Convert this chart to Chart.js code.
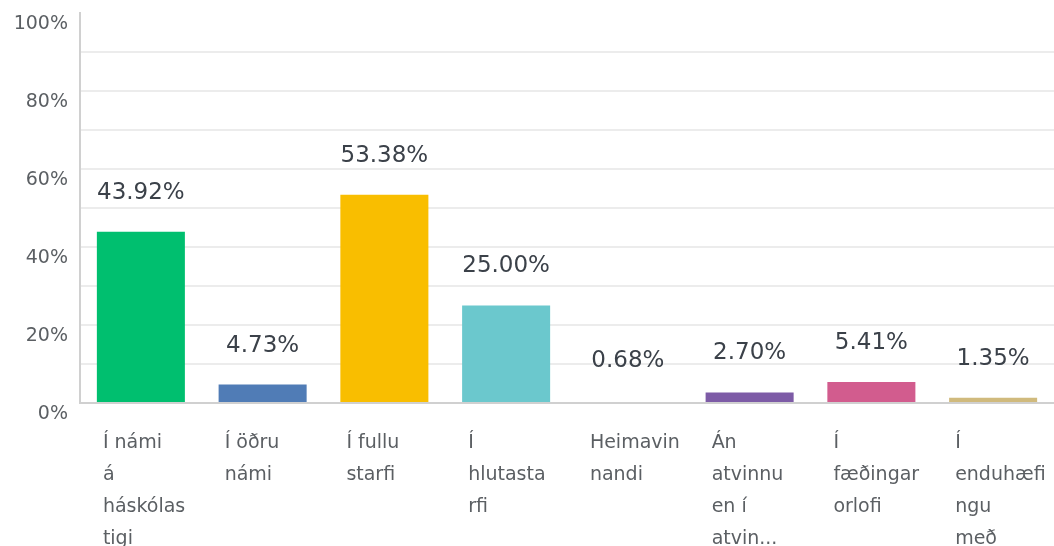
<!DOCTYPE html>
<html>
<head>
<meta charset="utf-8">
<script src="https://cdn.jsdelivr.net/npm/chart.js@4.4.0/dist/chart.umd.min.js"></script>
<style>
  html, body { margin: 0; padding: 0; background: #fff; overflow: hidden; }
  #wrap { width: 1054px; height: 546px; position: relative; }
</style>
</head>
<body>
<div id="wrap"><canvas id="chart"></canvas></div>
<script>
var categories = [
  ["Í námi", "á", "háskólas", "tigi"],
  ["Í öðru", "námi"],
  ["Í fullu", "starfi"],
  ["Í", "hlutasta", "rfi"],
  ["Heimavin", "nandi"],
  ["Án", "atvinnu", "en í", "atvin..."],
  ["Í", "fæðingar", "orlofi"],
  ["Í", "enduhæfi", "ngu", "með"]
];
var values = [43.92, 4.73, 53.38, 25.00, 0.68, 2.70, 5.41, 1.35];
var barColors = ["#00bf6f", "#507cb6", "#f9be00", "#6bc8cd", "rgba(0,0,0,0)", "#7d5ba6", "#d25c8e", "#d0ba7d"];
var yTicks = [0, 20, 40, 60, 80, 100];

// value labels above the bars
var valueLabels = {
  id: "valueLabels",
  afterDatasetsDraw: function(chart) {
    var ctx = chart.ctx;
    var meta = chart.getDatasetMeta(0);
    ctx.save();
    ctx.font = "23px 'DejaVu Sans'";
    ctx.fillStyle = "#3b4149";
    ctx.textAlign = "center";
    ctx.textBaseline = "middle";
    meta.data.forEach(function(bar, i) {
      ctx.fillText(values[i].toFixed(2) + "%", bar.x, bar.y - 39);
    });
    ctx.restore();
  }
};

new Chart("chart", {
  type: "bar",
  data: {
    labels: categories,
    datasets: [{
      data: values,
      backgroundColor: barColors,
      barPercentage: 0.723,
      categoryPercentage: 1
    }]
  },
  options: {
    responsive: true,
    maintainAspectRatio: false,
    animation: false,
    layout: { padding: { top: 13, right: 0, left: 0, bottom: 0 } },
    plugins: { legend: { display: false }, tooltip: { enabled: false } },
    scales: {
      x: {
        grid: { display: false, drawTicks: false },
        border: { display: true, color: "#d0d0d0", width: 2 },
        ticks: {
          color: "#5b5f63",
          font: { family: "'DejaVu Sans'", size: 19, lineHeight: 1.68 },
          align: "start",
          labelOffset: -38,
          padding: 24,
          maxRotation: 0,
          autoSkip: false
        },
        afterFit: function(s) { s.height = 143; s.paddingLeft = 0; s.paddingRight = 0; }
      },
      y: {
        min: 0,
        max: 100,
        grid: {
          drawTicks: false,
          color: function(c) { return c.tick && c.tick.value === 100 ? "rgba(0,0,0,0)" : "#ececec"; },
          lineWidth: 2
        },
        border: { display: true, color: "#d0d0d0", width: 2 },
        ticks: {
          stepSize: 10,
          color: "#5b5f63",
          font: { family: "'DejaVu Sans'", size: 19 },
          padding: 12,
          labelOffset: 11,
          callback: function(v) { return yTicks.indexOf(v) >= 0 ? v + "%" : ""; }
        },
        afterFit: function(s) { s.width = 80; s.paddingTop = 0; s.paddingBottom = 0; }
      }
    }
  },
  plugins: [valueLabels]
});
</script>
</body>
</html>
